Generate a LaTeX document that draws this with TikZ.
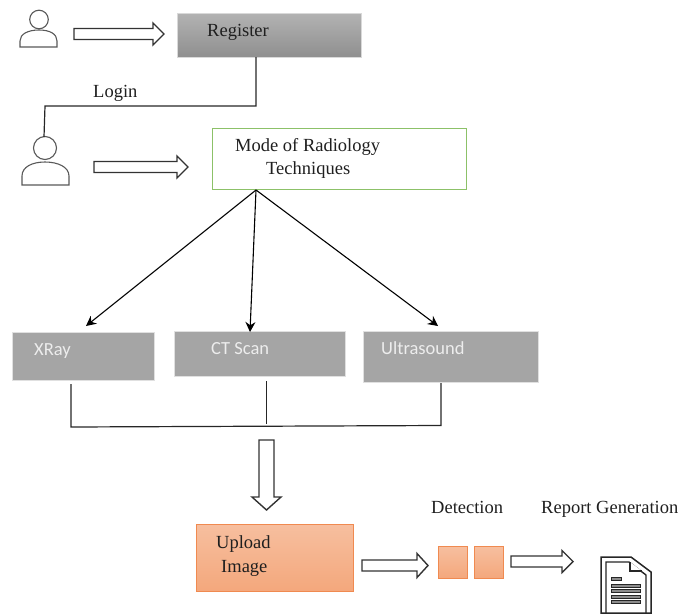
\documentclass[tikz,border=0pt]{standalone}
\usepackage{fontspec}
\setmainfont{Liberation Serif}
\newfontfamily\labelsans{Carlito}
\usetikzlibrary{arrows.meta}
\definecolor{greybox}{HTML}{A5A5A5}
\definecolor{orangeline}{HTML}{F08A50}
\definecolor{greenline}{HTML}{8CC168}
\newcommand{\rightblock}[6]{% x0,x1(base of head),tip,ycenter,half shaft,half head
  \draw[blockarrow] (#1,#4-#5) -- (#2,#4-#5) -- (#2,#4-#6) -- (#3,#4) -- (#2,#4+#6) -- (#2,#4+#5) -- (#1,#4+#5) -- cycle;}
\tikzset{
  x=1pt,y=-1pt,
  blockarrow/.style={draw=black!80,line width=1.4pt,fill=white,line join=miter},
  conn/.style={draw=black!85,line width=1.2pt},
  thinconn/.style={draw=black!85,line width=.9pt},
  spear/.style={draw=black,line width=1.1pt,-{Stealth[length=10pt,width=10pt]}},
  person/.style={draw=black!65,line width=1.1pt,fill=white},
  serifT/.style={font=\fontsize{18.5}{20}\selectfont,text=black!88,inner sep=0pt,anchor=base west},
  sansT/.style={font=\labelsans\fontsize{18.5}{20}\selectfont,text=white!93!black,inner sep=0pt,anchor=base west},
  greyT/.style={fill=greybox,draw=black!12,line width=.6pt,inner sep=0pt,anchor=north west},
  orangebox/.style={draw=orangeline,line width=1.1pt,top color=orangeline!55!white,bottom color=orangeline!75!white,inner sep=0pt,anchor=north west},
  docline/.style={draw=black!85,line width=.9pt,fill=black!45},
}
\begin{document}
\begin{tikzpicture}
\useasboundingbox (0,0) rectangle (679,613);
% boxes
\node[anchor=north west,inner sep=0pt,minimum width=184pt,minimum height=44pt,top color=black!30,bottom color=black!44,draw=black!15,line width=.6pt] (register) at (177,13) {};
\node[anchor=north west,inner sep=0pt,minimum width=254pt,minimum height=61pt,draw=greenline,line width=1.2pt,fill=white] (mode) at (212,128) {};
\node[greyT,minimum width=142pt,minimum height=48pt] (xray) at (12,332) {};
\node[greyT,minimum width=171pt,minimum height=45pt] (ct) at (174,331) {};
\node[greyT,minimum width=175pt,minimum height=51pt] (ultra) at (363,331) {};
\node[orangebox,minimum width=157pt,minimum height=67pt] (upload) at (196,524) {};
\node[orangebox,minimum width=29pt,minimum height=32pt] (det1) at (438,546) {};
\node[orangebox,minimum width=29pt,minimum height=32pt] (det2) at (474,546) {};
% labels
\node[serifT] (tregister) at (207,36) {Register};
\node[serifT] (tlogin) at (93,97) {Login};
\node[serifT] (tmode) at (235,151) {Mode of Radiology};
\node[serifT] (ttech) at (266,174) {Techniques};
\node[sansT] (txray) at (34,355) {XRay};
\node[sansT] (tct) at (211,354) {CT Scan};
\node[sansT] (tultra) at (381,354) {Ultrasound};
\node[serifT] (tupload) at (216,548) {Upload};
\node[serifT] (timage) at (221,572) {Image};
\node[serifT] (tdet) at (431,513) {Detection};
\node[serifT] (treport) at (541,513) {Report Generation};
% persons
\draw[person] (20,47) -- (20,41) .. controls (20,34) and (28,30) .. (39,30) .. controls (50,30) and (57,34) .. (57,41) -- (57,47) -- cycle;
\draw[person] (39,19.5) circle (9.3);
\draw[person] (22,185) -- (22,176) .. controls (22,167) and (32,162) .. (45,162) .. controls (58,162) and (69,167) .. (69,176) -- (69,185) -- cycle;
\draw[person] (45,148) coordinate (headc) circle (11.5);
% login connector
\coordinate (headtop) at (44,137);
\coordinate (bend) at (45,106);
\coordinate (regout) at (256,57);
\draw[conn] (regout) -- (256,106) -- (bend) -- (headtop);
% radiology arrows
\coordinate (modeout) at (256,190);
\coordinate (xrayin) at (86,326);
\coordinate (ctin) at (250,332);
\coordinate (ultrain) at (438,326);
\draw[spear] (modeout) -- (xrayin);
\draw[spear] (modeout) -- (ctin);
\draw[spear] (modeout) -- (ultrain);
% collector
\coordinate (c1) at (71,384);
\coordinate (c2) at (266,381);
\coordinate (c3) at (441,383);
\coordinate (c1b) at (71,427);
\coordinate (c2b) at (266,424);
\coordinate (c3b) at (441,425.5);
\draw[conn] (c1) -- (c1b) -- (c3b) -- (c3);
\draw[thinconn] (c2) -- (c2b);
% block arrows
\rightblock{74}{153}{164}{34}{5.5}{11}
\rightblock{94}{177}{188}{167}{5.5}{11}
\rightblock{362}{417}{428}{565.5}{5.5}{12}
\rightblock{511}{562}{573}{561.5}{5.5}{11}
\draw[blockarrow] (259,440) -- (274,440) -- (274,497) -- (281,497) -- (266.5,510) -- (252,497) -- (259,497) -- cycle;
% document icon
\draw[draw=black!85,line width=1.5pt,fill=white] (601,557) -- (631,557) -- (651,572) -- (651,613) -- (601,613) -- cycle;
\draw[draw=black!85,line width=1.4pt] (606,613) -- (606,562) -- (629,562) -- (646,575) -- (646,613);
\draw[draw=black!85,line width=1.1pt,fill=white] (630,562) -- (630,571) -- (642,571);
\draw[docline] (611,577.5) rectangle (621,580.5);
\draw[docline] (611,584) rectangle (640,587);
\draw[docline] (611,589.5) rectangle (640,592.5);
\draw[docline] (611,595) rectangle (640,598);
\draw[docline] (611,600.5) rectangle (640,603.5);
\end{tikzpicture}
\end{document}
